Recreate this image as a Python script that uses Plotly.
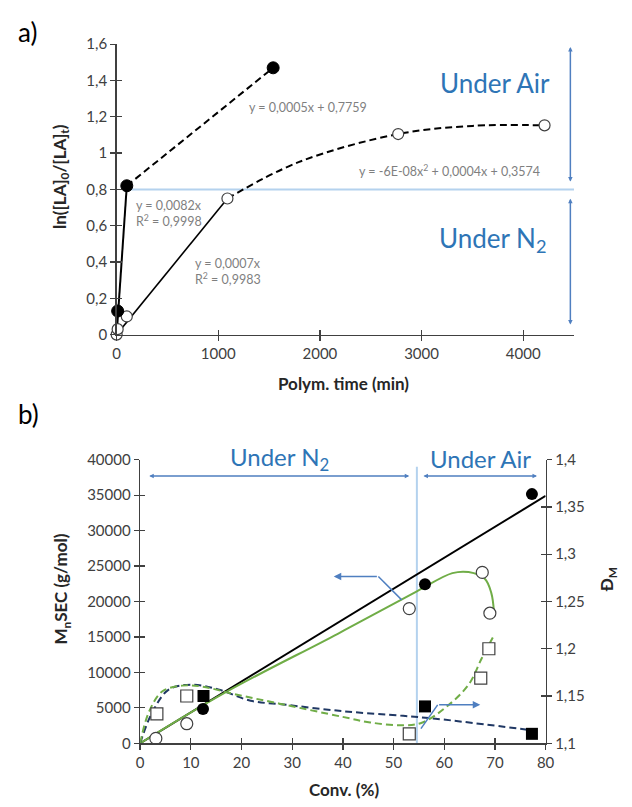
import plotly.graph_objects as go

# ---------------- Panel a data ----------------
a_filled_time = [10, 100, 1540]
a_filled_ln = [0.13, 0.82, 1.47]
a_open_time = [0, 10, 100, 1090, 2770, 4210]
a_open_ln = [0, 0.03, 0.10, 0.75, 1.105, 1.153]

# trendlines
a_fit_filled_n2_x = [0, 100]
a_fit_filled_n2_y = [0, 0.82]
a_fit_filled_air_x = [100, 1540]
a_fit_filled_air_y = [0.82, 1.47]
a_fit_open_n2_x = [0, 1090]
a_fit_open_n2_y = [0, 0.75]
a_fit_open_air_x = [1090, 1790, 2770, 3500, 4210]
a_fit_open_air_y = [0.75, 0.95, 1.105, 1.15, 1.153]

a_xticks = [0, 1000, 2000, 3000, 4000]
a_xticktext = ["0", "1000", "2000", "3000", "4000"]
a_yticks = [0, 0.2, 0.4, 0.6, 0.8, 1.0, 1.2, 1.4, 1.6]
a_yticktext = ["0", "0,2", "0,4", "0,6", "0,8", "1", "1,2", "1,4", "1,6"]

# ---------------- Panel b data ----------------
b_filled_conv = [12.4, 56.2, 77.3]
b_filled_mn = [4830, 22450, 35150]
b_open_conv = [3.1, 9.2, 53.1, 67.5, 69.0]
b_open_mn = [690, 2760, 19000, 24100, 18350]
b_filled_sq_conv = [12.5, 56.2, 77.3]
b_filled_sq_disp = [1.150, 1.139, 1.110]
b_open_sq_conv = [3.3, 9.2, 53.1, 67.2, 68.8]
b_open_sq_disp = [1.131, 1.150, 1.110, 1.169, 1.200]

b_fit_black_x = [0, 80]
b_fit_black_y = [0, 34900]
b_fit_green_x = [0, 17, 39, 54.5, 61.6, 64.8, 68, 69.3, 69.8]
b_fit_green_y = [0, 7250, 15450, 21400, 24000, 24150, 23200, 21150, 18600]
b_fit_green_d_x = [0, 1.8, 4.4, 8.3, 12.2, 18.6, 28.3, 39.9, 45.4, 51.9, 55.7, 60.3, 64.8, 67.4, 69.6]
b_fit_green_d_y = [1.1, 1.134, 1.155, 1.161, 1.160, 1.152, 1.141, 1.128, 1.122, 1.119, 1.122, 1.138, 1.162, 1.190, 1.212]
b_fit_navy_d_x = [0, 2.5, 5.7, 10.2, 15.4, 21.8, 28.3, 39.9, 51.9, 58.3, 77]
b_fit_navy_d_y = [1.1, 1.134, 1.157, 1.162, 1.157, 1.145, 1.141, 1.134, 1.129, 1.126, 1.114]

b_xticks = [0, 10, 20, 30, 40, 50, 60, 70, 80]
b_xticktext = [str(v) for v in b_xticks]
b_yticks = [0, 5000, 10000, 15000, 20000, 25000, 30000, 35000, 40000]
b_yticktext = [str(v) for v in b_yticks]
b_y2ticks = [1.1, 1.15, 1.2, 1.25, 1.3, 1.35, 1.4]
b_y2ticktext = ["1,1", "1,15", "1,2", "1,25", "1,3", "1,35", "1,4"]

# ---------------- styles ----------------
FONT = "Lato"
AX = "#404040"
GREEN = "#70AD47"
NAVY = "#203864"
LBLUE = "#B4D2EE"
ABLUE = "#4F7FC0"
TBLUE = "#2E75B6"
GRAY = "#7F7F7F"
DASH = "7px,4px"

fig = go.Figure()

def sc(x, y, xa, ya, **kw):
    fig.add_trace(go.Scatter(x=x, y=y, xaxis=xa, yaxis=ya, showlegend=False,
                             hoverinfo="skip", cliponaxis=False, **kw))

# panel a lines
sc(a_fit_filled_n2_x, a_fit_filled_n2_y, "x", "y", mode="lines", line=dict(color="black", width=2))
sc(a_fit_open_n2_x, a_fit_open_n2_y, "x", "y", mode="lines", line=dict(color="black", width=1.6))
sc(a_fit_filled_air_x, a_fit_filled_air_y, "x", "y", mode="lines", line=dict(color="black", width=2, dash=DASH))
sc(a_fit_open_air_x, a_fit_open_air_y, "x", "y", mode="lines", line=dict(color="black", width=2, dash=DASH, shape="spline"))
# panel a markers
sc(a_open_time, a_open_ln, "x", "y", mode="markers",
   marker=dict(symbol="circle", size=11, color="white", line=dict(color=AX, width=1.2)))
sc(a_filled_time, a_filled_ln, "x", "y", mode="markers",
   marker=dict(symbol="circle", size=12, color="black", line=dict(color="black", width=1)))

# panel b lines
sc(b_fit_navy_d_x, b_fit_navy_d_y, "x2", "y3", mode="lines", line=dict(color=NAVY, width=2, dash=DASH, shape="spline"))
sc(b_fit_green_d_x, b_fit_green_d_y, "x2", "y3", mode="lines", line=dict(color=GREEN, width=2, dash=DASH, shape="spline"))
sc(b_fit_black_x, b_fit_black_y, "x2", "y2", mode="lines", line=dict(color="black", width=2))
sc(b_fit_green_x, b_fit_green_y, "x2", "y2", mode="lines", line=dict(color=GREEN, width=2, shape="spline"))
# panel b markers
sc(b_open_conv, b_open_mn, "x2", "y2", mode="markers",
   marker=dict(symbol="circle", size=12, color="white", line=dict(color=AX, width=1.2)))
sc(b_filled_conv, b_filled_mn, "x2", "y2", mode="markers",
   marker=dict(symbol="circle", size=12, color="black"))
sc(b_open_sq_conv, b_open_sq_disp, "x2", "y3", mode="markers",
   marker=dict(symbol="square", size=12, color="white", line=dict(color=AX, width=1.2)))
sc(b_filled_sq_conv, b_filled_sq_disp, "x2", "y3", mode="markers",
   marker=dict(symbol="square", size=12, color="black"))

# invisible traces for cross-tick overlay axes
for xa, ya in [("x3", "y4"), ("x4", "y5"), ("x4", "y6")]:
    fig.add_trace(go.Scatter(x=[None], y=[None], xaxis=xa, yaxis=ya, showlegend=False,
                             hoverinfo="skip", mode="markers"))

W, H = 632, 807
ax_dom_a = [115 / W, 582 / W]
ay_dom_a = [1 - 332 / H, 1 - 35 / H]
bx_dom = [139 / W, 553 / W]
by_dom = [1 - 750 / H, 1 - 460 / H]

base = dict(showgrid=False, zeroline=False, tickcolor=AX, tickwidth=1.3, ticklen=5,
            tickfont=dict(family=FONT, size=15, color=AX))
main = dict(base, showline=True, linecolor=AX, linewidth=1.5, ticks="outside")
over = dict(base, showline=False, ticks="inside", showticklabels=False)

a_xr = [0, 4500]
a_yr = [0, 1.6]
b_xr = [0, 80]
b_yr = [0, 40000]
b_y2r = [1.1, 1.4]

layout = dict(
    width=W, height=H, margin=dict(l=0, r=0, t=0, b=0),
    paper_bgcolor="white", plot_bgcolor="white", showlegend=False,
    font=dict(family=FONT, color=AX),
    xaxis=dict(main, domain=ax_dom_a, range=a_xr, anchor="y", tickvals=a_xticks, ticktext=a_xticktext),
    yaxis=dict(main, domain=ay_dom_a, range=a_yr, anchor="x", tickvals=a_yticks, ticktext=a_yticktext),
    xaxis3=dict(over, domain=ax_dom_a, range=a_xr, anchor="y", overlaying="x", tickvals=a_xticks),
    yaxis4=dict(over, domain=ay_dom_a, range=a_yr, anchor="x", overlaying="y", tickvals=a_yticks),
    xaxis2=dict(main, domain=bx_dom, range=b_xr, anchor="y2", tickvals=b_xticks, ticktext=b_xticktext),
    yaxis2=dict(main, domain=by_dom, range=b_yr, anchor="x2", tickvals=b_yticks, ticktext=b_yticktext),
    yaxis3=dict(main, domain=by_dom, range=b_y2r, anchor="x2", overlaying="y2", side="right",
                tickvals=b_y2ticks, ticktext=b_y2ticktext),
    xaxis4=dict(over, domain=bx_dom, range=b_xr, anchor="y2", overlaying="x2", tickvals=b_xticks),
    yaxis5=dict(over, domain=by_dom, range=b_yr, anchor="x2", overlaying="y2", tickvals=b_yticks),
    yaxis6=dict(over, domain=by_dom, range=b_y2r, anchor="x4", overlaying="y2", side="right",
                tickvals=b_y2ticks),
)

shapes = [
    # panel a: limit N2/Air
    dict(type="line", xref="x", yref="y", x0=100, x1=4500, y0=0.8, y1=0.8,
         line=dict(color=LBLUE, width=2), layer="below"),
    # panel b: limit N2/Air
    dict(type="line", xref="x2", yref="y2", x0=54.6, x1=54.6, y0=0, y1=39000,
         line=dict(color=LBLUE, width=2), layer="below"),
    # callout leg lines
    dict(type="line", xref="x2", yref="y2", x0=51.6, y0=20230, x1=47.0, y1=23540,
         line=dict(color=ABLUE, width=1.5)),
    dict(type="line", xref="x2", yref="y2", x0=55.4, y0=2070, x1=58.7, y1=5420,
         line=dict(color=ABLUE, width=1.5)),
]

def arrow(x0, y0, x1, y1, xr, yr, both=True, size=0.6):
    return dict(x=x1, y=y1, ax=x0, ay=y0, xref=xr, yref=yr, axref=xr, ayref=yr,
                text="", showarrow=True, arrowhead=2, arrowsize=size, arrowwidth=1.5,
                arrowcolor=ABLUE, arrowside="end+start" if both else "end",
                standoff=0, startstandoff=0)

def txt(x, y, s, size, color, xr="paper", yr="paper", xanchor="center", angle=0, **kw):
    return dict(x=x, y=y, xref=xr, yref=yr, text=s, showarrow=False, xanchor=xanchor,
                yanchor="middle", textangle=angle,
                font=dict(family=FONT, size=size, color=color), **kw)

annotations = [
    # panel a range arrows
    arrow(4464, 0.835, 4464, 1.584, "x", "y"),
    arrow(4464, 0.048, 4464, 0.749, "x", "y"),
    txt(3720, 1.385, "Under Air", 26, TBLUE, "x", "y"),
    txt(3700, 0.523, "Under N<sub>2</sub>", 26, TBLUE, "x", "y"),
    # equations
    txt(1285, 1.25, "y = 0,0005x + 0,7759", 12.5, GRAY, "x", "y", xanchor="left"),
    txt(2367, 0.905, "y = -6E-08x<sup>2</sup> + 0,0004x + 0,3574", 12.5, GRAY, "x", "y", xanchor="left"),
    txt(174, 0.665, "y = 0,0082x<br>R<sup>2</sup> = 0,9998", 12.5, GRAY, "x", "y", xanchor="left", align="left"),
    txt(754, 0.345, "y = 0,0007x<br>R<sup>2</sup> = 0,9983", 12.5, GRAY, "x", "y", xanchor="left", align="left"),
    # panel b arrows
    arrow(1.5, 37700, 53.1, 37700, "x2", "y2"),
    arrow(55.6, 37700, 78.3, 37700, "x2", "y2"),
    arrow(47.0, 23540, 38.2, 23540, "x2", "y2", both=False, size=1),
    arrow(58.7, 5420, 67.1, 5420, "x2", "y2", both=False, size=1),
    txt(281 / W, 1 - 459 / H, "Under N<sub>2</sub>", 24, TBLUE),
    txt(486 / W, 1 - 459 / H, "Under Air", 24, TBLUE),
    # axis titles
    txt(58 / W, 1 - 170 / H, "<b>ln([LA]<sub>0</sub>/[LA]<sub>t</sub>)</b>", 17, "#262626", angle=-90),
    txt(347 / W, 1 - 382 / H, "<b>Polym. time (min)</b>", 17, "#262626"),
    txt(59 / W, 1 - 592 / H, "<b>M<sub>n</sub>SEC (g/mol)</b>", 17, "#262626", angle=-90),
    txt(347 / W, 1 - 797 / H, "<b>Conv. (%)</b>", 17, "#262626"),
    txt(617 / W, 1 - 583 / H, "<b>Đ<sub>M</sub></b>", 17, "#262626", angle=-90),
    # panel labels
    txt(24 / W, 1 - 23 / H, "a)", 26, "black"),
    txt(25 / W, 1 - 413 / H, "b)", 26, "black"),
]

layout["shapes"] = shapes
layout["annotations"] = annotations
fig.update_layout(**layout)
fig.write_html("out.html", config={"staticPlot": True, "displayModeBar": False},
               post_script="document.body.style.margin='0';document.body.style.padding='0';")
